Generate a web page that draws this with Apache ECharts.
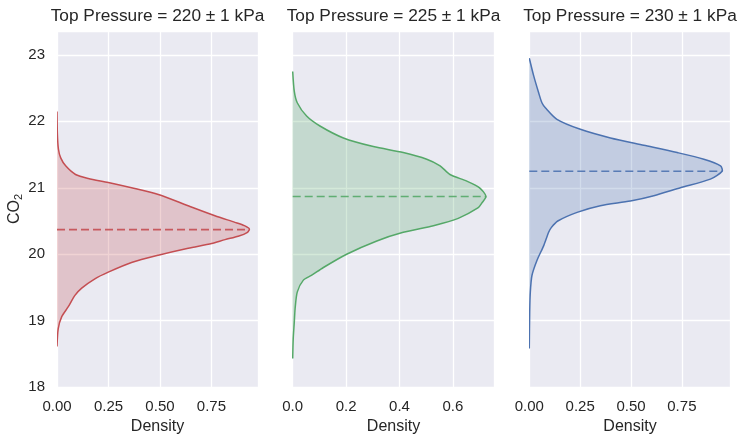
<!DOCTYPE html>
<html><head><meta charset="utf-8">
<script src="https://cdn.jsdelivr.net/npm/echarts@6/dist/echarts.min.js"></script>
<style>html,body{margin:0;padding:0;background:#fff}#c{width:739px;height:440px}</style>
</head><body><div id="c"></div>
<script>
const titles = ['Top Pressure = 220 \u00b1 1 kPa', 'Top Pressure = 225 \u00b1 1 kPa', 'Top Pressure = 230 \u00b1 1 kPa'];

const co2_220 = [22.15, 21.8, 21.58, 21.45, 21.33, 21.20, 21.14, 21.08, 21.00, 20.90, 20.73, 20.58, 20.48, 20.43, 20.38, 20.33, 20.27, 20.22, 20.16, 20.09, 19.985, 19.875, 19.73, 19.63, 19.49, 19.38, 19.21, 19.06, 18.88, 18.61];
const density_220 = [0, 0.002, 0.007, 0.018, 0.042, 0.09, 0.152, 0.249, 0.362, 0.492, 0.637, 0.767, 0.864, 0.91, 0.934, 0.925, 0.88, 0.816, 0.751, 0.637, 0.492, 0.362, 0.249, 0.184, 0.12, 0.087, 0.055, 0.023, 0.006, 0];

const co2_225 = [22.75, 22.45, 22.28, 22.08, 21.93, 21.75, 21.62, 21.53, 21.43, 21.33, 21.20, 21.10, 21.00, 20.87, 20.77, 20.70, 20.54, 20.43, 20.33, 20.20, 20.00, 19.80, 19.68, 19.61, 19.43, 19.18, 18.98, 18.73, 18.43];
const density_225 = [0, 0.006, 0.017, 0.052, 0.102, 0.19, 0.302, 0.414, 0.502, 0.552, 0.589, 0.652, 0.70, 0.724, 0.708, 0.695, 0.62, 0.527, 0.414, 0.315, 0.202, 0.115, 0.07, 0.04, 0.017, 0.009, 0.006, 0.002, 0];

const co2_230 = [22.95, 22.68, 22.43, 22.28, 22.20, 22.03, 21.88, 21.75, 21.64, 21.53, 21.43, 21.33, 21.25, 21.13, 21.00, 20.88, 20.80, 20.73, 20.63, 20.50, 20.40, 20.33, 20.13, 19.91, 19.68, 19.43, 19.13, 18.58];
const density_230 = [0, 0.022, 0.046, 0.062, 0.080, 0.136, 0.251, 0.399, 0.563, 0.727, 0.858, 0.94, 0.948, 0.89, 0.743, 0.612, 0.497, 0.349, 0.235, 0.14, 0.108, 0.095, 0.071, 0.038, 0.013, 0.005, 0.002, 0];

const meanCO2 = [20.37, 20.87, 21.25];
const meanDensity = [0.934, 0.724, 0.948];

const yTicksMin = 18, yMax = 23.36, yInterval = 1;
const xMax = [0.976, 0.755, 0.99];
const xInterval = [0.25, 0.2, 0.25];
const xDecimals = [2, 1, 2];

const colors = ['#C44E52', '#55A868', '#4C72B0'];
const fills = ['rgba(196,78,82,0.25)', 'rgba(85,168,104,0.25)', 'rgba(76,114,176,0.25)'];
const gridLeft = [57, 292.7, 529.3];
const gridWidth = [201, 201.6, 201.4];

const co2s = [co2_220, co2_225, co2_230];
const dens = [density_220, density_225, density_230];

function makeRender(pts, color, fill) {
  return function (params, api) {
    if (params.dataIndex !== 0) return null;
    const coords = pts.map(p => api.coord(p));
    return {
      type: 'group',
      children: [
        { type: 'polygon', shape: { points: coords, smooth: 0.25 }, style: { fill: fill, stroke: null } },
        { type: 'polyline', shape: { points: coords, smooth: 0.25 }, style: { stroke: color, lineWidth: 1.5, fill: null } }
      ]
    };
  };
}

const grids = [], xAxes = [], yAxes = [], series = [], title = [];
for (let i = 0; i < 3; i++) {
  grids.push({ left: gridLeft[i], width: gridWidth[i], top: 31, height: 358, backgroundColor: '#EAEAF2', show: true, borderWidth: 0 });
  title.push({
    text: titles[i], left: gridLeft[i] + gridWidth[i] / 2 - 5, top: 3, textAlign: 'center',
    textStyle: { fontFamily: 'Liberation Sans, Arial, sans-serif', fontSize: 17.3, fontWeight: 'normal', color: '#262626' }
  });
  const dec = xDecimals[i];
  xAxes.push({
    type: 'value', gridIndex: i, min: 0, max: xMax[i], interval: xInterval[i],
    name: 'Density', nameLocation: 'middle', nameGap: 30,
    nameTextStyle: { fontFamily: 'Liberation Sans, Arial, sans-serif', fontSize: 16, color: '#262626' },
    axisLine: { show: false }, axisTick: { show: false },
    axisLabel: {
      margin: 12, fontFamily: 'Liberation Sans, Arial, sans-serif', fontSize: 15, color: '#262626', showMaxLabel: false,
      formatter: v => v.toFixed(dec)
    },
    splitLine: { show: true, lineStyle: { color: '#ffffff', width: 1.3 } }
  });
  yAxes.push({
    type: 'value', gridIndex: i, min: yTicksMin, max: yMax, interval: yInterval,
    name: i === 0 ? '{a|CO}{b|2}' : '', nameLocation: 'middle', nameGap: 33, nameRotate: 90,
    nameTextStyle: {
      rich: {
        a: { fontFamily: 'Liberation Sans, Arial, sans-serif', fontSize: 16, color: '#262626' },
        b: { fontFamily: 'Liberation Sans, Arial, sans-serif', fontSize: 11, color: '#262626', verticalAlign: 'bottom', padding: [8, 0, 0, 0] }
      }
    },
    axisLine: { show: false }, axisTick: { show: false },
    axisLabel: {
      show: i === 0, margin: 12, fontFamily: 'Liberation Sans, Arial, sans-serif', fontSize: 15, color: '#262626', showMaxLabel: false,
      formatter: v => (Math.abs(v - Math.round(v)) < 1e-6 ? String(Math.round(v)) : '')
    },
    splitLine: { show: true, lineStyle: { color: '#ffffff', width: 1.3 } }
  });
  const pts = co2s[i].map((c, k) => [dens[i][k], c]);
  series.push({
    type: 'custom', xAxisIndex: i, yAxisIndex: i, data: pts, clip: true,
    encode: { x: 0, y: 1 },
    renderItem: makeRender(pts, colors[i], fills[i]),
    silent: true
  });
  series.push({
    type: 'line', xAxisIndex: i, yAxisIndex: i,
    data: [[0, meanCO2[i]], [meanDensity[i], meanCO2[i]]],
    symbol: 'none', silent: true,
    lineStyle: { color: colors[i], width: 1.6, type: [8, 4], opacity: 0.9 }
  });
}

const chart = echarts.init(document.getElementById('c'), null, { renderer: 'canvas' });
chart.setOption({ animation: false, title, grid: grids, xAxis: xAxes, yAxis: yAxes, series });
</script>
</body></html>
